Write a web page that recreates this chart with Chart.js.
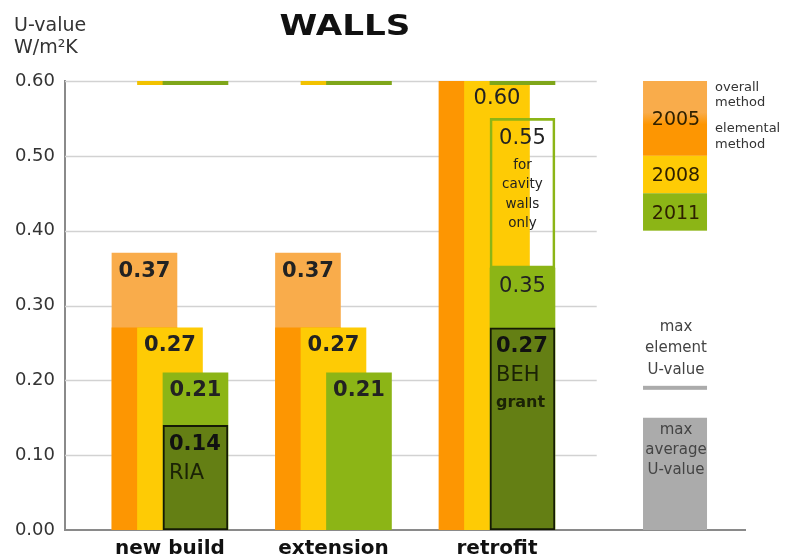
<!DOCTYPE html>
<html><head><meta charset="utf-8">
<script src="https://cdn.jsdelivr.net/npm/chart.js@4/dist/chart.umd.min.js"></script>
<style>html,body{margin:0;padding:0;background:#fff;}#wrap{width:808px;height:557px;position:relative;}</style>
</head><body><div id="wrap"><canvas id="c"></canvas></div>
<script>
// ---- data ----
const categories = ['new build', 'extension', 'retrofit'];
const overall2005 = [0.37, 0.37, null];
const elemental2005 = [0.27, 0.27, 0.70];
const limit2008 = [0.60, 0.60, null];
const values2008 = [0.27, 0.27, 0.60];
const limit2011 = [0.60, 0.60, 0.60];
const cavity2011 = [null, null, 0.55];
const cavityNote = ['for', 'cavity', 'walls', 'only'];
const values2011 = [0.21, 0.21, 0.35];
const grantValues = [0.14, null, 0.27];
const grantNames = [['RIA'], null, ['BEH', 'grant']];
const yTicks = [0.00, 0.10, 0.20, 0.30, 0.40, 0.50, 0.60];
const legendYears = ['2005', '2008', '2011'];
const legendRanges = [[0.50, 0.60], [0.45, 0.50], [0.40, 0.45]];
const legendMaxElement = 0.19;
const legendMaxAverage = 0.15;

// ---- layout / style constants ----
const OFF = 0.156, X_MIN = -0.642, X_MAX = 3.517, LEGEND_X = 3.089, GRID_END_X = 2.61, LINE_T = 0.005;
const COL = { light: '#F9AC4B', dark: '#FD9602', yellow: '#FECB05', yLine: '#F2C200', green: '#8CB516', gLine: '#7FA61A', grant: '#647F14', gray: '#ABABAB', text: '#222' };
const FONT = '"DejaVu Sans", sans-serif';

const pts = (vals, off) => vals.map((v, i) => ({ x: i + off, y: v }));
const linePts = (vals, off) => vals.map((v, i) => ({ x: i + off, y: v == null ? null : [v - LINE_T, v] }));
const floatPts = (lo, hi, off) => hi.map((v, i) => ({ x: i + off, y: v == null ? null : [lo[i], v] }));

const datasets = [
  { data: pts(overall2005, -OFF), backgroundColor: COL.light, labels: overall2005, weights: ['bold', 'bold', 'bold'] },
  { data: pts(elemental2005, -OFF), backgroundColor: COL.dark },
  { data: linePts(limit2008, 0), backgroundColor: COL.yLine },
  { data: pts(values2008, 0), backgroundColor: COL.yellow, labels: values2008, weights: ['bold', 'bold', 'normal'] },
  { data: linePts(limit2011, OFF), backgroundColor: COL.gLine },
  { data: floatPts(values2011, cavity2011, OFF), backgroundColor: 'rgba(0,0,0,0)', borderColor: COL.green, borderWidth: 2, borderSkipped: false, cavity: true },
  { data: pts(values2011, OFF), backgroundColor: COL.green, labels: values2011, weights: ['bold', 'bold', 'normal'] },
  { data: pts(grantValues, OFF), backgroundColor: COL.grant, borderColor: '#151a05', borderWidth: 2, borderSkipped: false, grant: true }
];
datasets.forEach((d, i) => { d.order = datasets.length - i; d.grouped = false; d.barThickness = 65; });

function txt(ctx, s, x, y, font, color, align, sx) {
  ctx.save(); ctx.font = font; ctx.fillStyle = color; ctx.textAlign = align || 'center'; ctx.textBaseline = 'middle';
  ctx.translate(x, y); ctx.scale(sx || 1, 1); ctx.fillText(s, 0, 0); ctx.restore();
}

const deco = {
  id: 'deco',
  beforeDatasetsDraw(chart) {
    const { ctx, chartArea, scales: { x, y } } = chart;
    const xe = x.getPixelForValue(GRID_END_X);
    ctx.save(); ctx.strokeStyle = '#d2d2d2'; ctx.lineWidth = 1.5;
    yTicks.forEach(t => { if (t === 0) return; const py = Math.round(y.getPixelForValue(t)) + 0.5; ctx.beginPath(); ctx.moveTo(chartArea.left, py); ctx.lineTo(xe, py); ctx.stroke(); });
    ctx.restore();
  },
  afterDatasetsDraw(chart) {
    const { ctx, chartArea, scales: { x, y } } = chart;
    chart.data.datasets.forEach((ds, di) => {
      const meta = chart.getDatasetMeta(di);
      meta.data.forEach((el, j) => {
        const top = Math.max(el.y, chartArea.top);
        if (ds.labels && ds.labels[j] != null) {
          txt(ctx, ds.labels[j].toFixed(2), el.x, top + 18, ds.weights[j] + ' 21px ' + FONT, COL.text);
        }
        if (ds.cavity && cavity2011[j] != null) {
          txt(ctx, cavity2011[j].toFixed(2), el.x, top + 20, '21px ' + FONT, COL.text);
          cavityNote.forEach((s, k) => txt(ctx, s, el.x, top + 47 + k * 19.5, '13.5px ' + FONT, COL.text));
        }
        if (ds.grant && grantValues[j] != null) {
          const lx = el.x - 32.5 + 6;
          txt(ctx, grantValues[j].toFixed(2), lx, top + 19, 'bold 21px ' + FONT, '#111', 'left');
          grantNames[j].forEach((s, k) => txt(ctx, s, lx, top + 48 + k * 27, (k === 0 ? '21px ' : 'bold 16px ') + FONT, '#1b2206', 'left'));
        }
      });
    });
    // legend
    const lx = x.getPixelForValue(LEGEND_X), w = 64, l = lx - w / 2;
    const cols = [null, COL.yellow, COL.green];
    legendRanges.forEach((r, k) => {
      const t = y.getPixelForValue(r[1]), b = y.getPixelForValue(r[0]);
      if (k === 0) {
        const g = ctx.createLinearGradient(0, t, 0, b);
        g.addColorStop(0, COL.light); g.addColorStop(0.42, COL.light); g.addColorStop(0.58, COL.dark); g.addColorStop(1, COL.dark);
        ctx.fillStyle = g;
      } else ctx.fillStyle = cols[k];
      ctx.fillRect(l, t, w, b - t);
      txt(ctx, legendYears[k], lx + 1, (t + b) / 2 + 2, '19px ' + FONT, '#2e2000');
    });
    const tx = l + w + 8;
    [['overall', 88], ['method', 103], ['elemental', 129], ['method', 145]].forEach(([s, py]) => txt(ctx, s, tx, py, '13px ' + FONT, '#333', 'left'));
    const ye = y.getPixelForValue(legendMaxElement);
    ctx.fillStyle = COL.gray; ctx.fillRect(l, ye - 2, w, 4);
    ['max', 'element', 'U-value'].forEach((s, k) => txt(ctx, s, lx + 1, ye - 61 + k * 21.5, '15px ' + FONT, '#444'));
    const ya = y.getPixelForValue(legendMaxAverage), y0 = y.getPixelForValue(0);
    ctx.fillRect(l, ya, w, y0 - ya);
    ['max', 'average', 'U-value'].forEach((s, k) => txt(ctx, s, lx + 1, ya + 12 + k * 20, '15px ' + FONT, '#444'));
  },
  afterDraw(chart) {
    const ctx = chart.ctx;
    txt(ctx, 'WALLS', 345, 27, 'bold 29px ' + FONT, '#111', 'center', 1.18);
    txt(ctx, 'U-value', 14, 26, '19px ' + FONT, '#333', 'left');
    txt(ctx, 'W/m²K', 14, 48, '19px ' + FONT, '#333', 'left');
  }
};

new Chart(document.getElementById('c'), {
  type: 'bar',
  data: { datasets },
  plugins: [deco],
  options: {
    responsive: true, maintainAspectRatio: false, animation: false,
    layout: { padding: { top: 81, right: 63, left: 0, bottom: 0 } },
    plugins: { legend: { display: false }, tooltip: { enabled: false }, title: { display: false } },
    scales: {
      x: {
        type: 'linear', min: X_MIN, max: X_MAX, offset: false,
        afterBuildTicks: s => { s.ticks = categories.map((c, i) => ({ value: i })); },
        afterFit: s => { s.height = 27; },
        grid: { display: false, drawTicks: false, offset: false },
        border: { display: true, color: '#8a8a8a', width: 2 },
        ticks: { autoSkip: false, maxRotation: 0, padding: 7, color: '#111', font: { family: FONT, size: 20, weight: 'bold' }, callback: v => categories[v] ?? '' }
      },
      y: {
        min: 0, max: 0.6,
        afterBuildTicks: s => { s.ticks = yTicks.map(v => ({ value: v })); },
        afterFit: s => { s.width = 65; },
        grid: { display: false, drawTicks: false },
        border: { display: true, color: '#8a8a8a', width: 2 },
        ticks: { padding: 10, color: '#333', font: { family: FONT, size: 18 }, callback: v => Number(v).toFixed(2) }
      }
    }
  }
});
</script></body></html>
